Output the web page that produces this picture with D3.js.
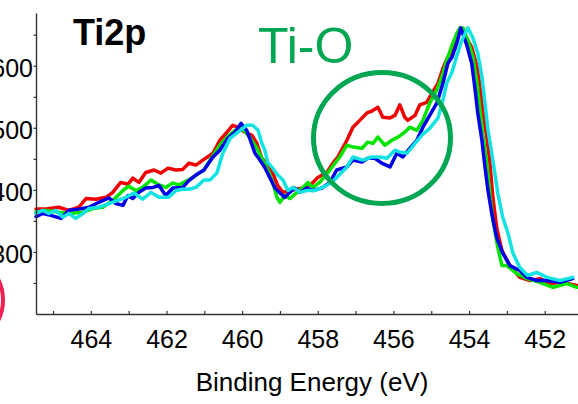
<!DOCTYPE html>
<html>
<head>
<meta charset="utf-8">
<script src="https://cdn.jsdelivr.net/npm/d3@7"></script>
<style>
  html, body { margin: 0; padding: 0; background: #fff; }
  svg { display: block; }
  text { font-family: "Liberation Sans", Arial, sans-serif; }
</style>
</head>
<body>
<svg id="chart" width="578" height="404"></svg>
<script>
// Ti 2p XPS spectra: [binding energy (eV), counts]
const redSeries = [[465.45,369],[465.24,369],[464.85,372],[464.58,367],[464.32,372],[464.13,386],[463.87,385],[463.60,388],[463.42,396],[463.21,412],[463.02,409],[462.89,419],[462.73,412],[462.55,428],[462.33,432],[462.15,427],[461.96,435],[461.75,432],[461.57,433],[461.41,443],[461.22,440],[461.04,448],[460.77,459],[460.59,480],[460.40,493],[460.25,504],[460.11,501],[459.93,493],[459.74,488],[459.61,475],[459.48,451],[459.35,443],[459.19,427],[459.06,407],[458.92,396],[458.74,399],[458.55,401],[458.34,404],[458.16,410],[458.00,420],[457.76,428],[457.60,443],[457.47,453],[457.23,480],[457.07,501],[456.89,512],[456.70,524],[456.57,527],[456.41,533],[456.28,517],[456.09,516],[455.96,520],[455.83,537],[455.70,517],[455.62,512],[455.43,520],[455.30,537],[455.12,541],[454.96,558],[454.82,572],[454.69,596],[454.56,614],[454.43,625],[454.30,653],[454.19,658],[454.11,649],[453.93,630],[453.79,598],[453.71,566],[453.64,528],[453.53,485],[453.45,443],[453.37,388],[453.27,339],[453.13,302],[452.92,278],[452.66,259],[452.39,254],[452.13,257],[451.86,249],[451.52,251],[451.15,246]];

const greenSeries = [[465.45,364],[465.19,367],[464.85,364],[464.58,362],[464.21,364],[463.95,370],[463.68,372],[463.42,383],[463.15,399],[463.00,406],[462.81,399],[462.63,404],[462.41,416],[462.23,409],[462.02,404],[461.83,411],[461.67,408],[461.49,414],[461.30,420],[461.14,427],[461.01,432],[460.85,448],[460.59,472],[460.40,485],[460.19,496],[460.01,500],[459.80,485],[459.61,467],[459.48,451],[459.32,432],[459.19,412],[459.08,388],[459.00,380],[458.87,391],[458.74,386],[458.55,396],[458.39,404],[458.26,412],[458.13,404],[457.95,412],[457.68,432],[457.42,453],[457.23,472],[457.07,469],[456.83,467],[456.68,477],[456.54,475],[456.41,485],[456.23,472],[456.04,480],[455.88,485],[455.70,493],[455.57,501],[455.38,496],[455.22,512],[455.04,540],[454.85,561],[454.72,582],[454.59,609],[454.45,633],[454.32,653],[454.24,661],[454.16,661],[454.03,641],[453.90,614],[453.79,572],[453.71,528],[453.64,491],[453.53,443],[453.45,394],[453.37,351],[453.24,307],[453.13,278],[453.00,278],[452.74,265],[452.47,257],[452.13,251],[451.78,243],[451.41,249],[451.15,243]];

const blueSeries = [[465.45,357],[465.27,362],[465.06,359],[464.79,354],[464.58,367],[464.32,369],[464.05,372],[463.79,380],[463.52,387],[463.34,378],[463.15,375],[463.02,391],[462.89,386],[462.73,396],[462.55,403],[462.36,404],[462.20,407],[462.02,391],[461.83,403],[461.57,404],[461.41,415],[461.22,424],[461.01,432],[460.77,453],[460.59,464],[460.38,483],[460.19,493],[460.03,507],[459.88,496],[459.80,483],[459.66,459],[459.53,448],[459.40,436],[459.27,420],[459.13,403],[459.00,395],[458.87,388],[458.74,396],[458.61,403],[458.47,396],[458.29,403],[458.13,399],[457.89,403],[457.68,412],[457.50,432],[457.23,437],[457.07,448],[456.83,445],[456.68,451],[456.49,451],[456.31,443],[456.09,437],[455.91,459],[455.75,453],[455.57,467],[455.38,480],[455.22,501],[455.04,520],[454.85,540],[454.69,572],[454.56,604],[454.45,614],[454.32,637],[454.22,661],[454.06,633],[453.93,604],[453.85,566],[453.77,524],[453.66,480],[453.58,437],[453.50,399],[453.40,362],[453.27,323],[453.11,298],[452.92,278],[452.66,270],[452.47,259],[452.21,254],[451.94,254],[451.60,251],[451.26,257]];

const cyanSeries = [[465.45,362],[465.27,367],[465.11,362],[464.93,367],[464.74,356],[464.58,362],[464.40,354],[464.21,362],[464.05,370],[463.79,372],[463.52,378],[463.29,383],[463.07,388],[462.86,395],[462.63,385],[462.41,396],[462.20,388],[461.94,388],[461.75,399],[461.57,401],[461.41,401],[461.22,404],[461.01,416],[460.85,416],[460.67,427],[460.51,459],[460.32,483],[460.11,493],[459.88,504],[459.72,504],[459.58,496],[459.48,475],[459.40,464],[459.32,444],[459.19,435],[459.06,424],[458.92,416],[458.79,399],[458.66,404],[458.47,396],[458.29,399],[458.08,399],[457.87,404],[457.63,412],[457.50,420],[457.23,437],[457.07,453],[456.81,448],[456.57,453],[456.36,453],[456.17,451],[455.96,464],[455.83,461],[455.64,459],[455.43,475],[455.25,488],[455.04,499],[454.82,516],[454.69,545],[454.59,572],[454.45,590],[454.32,617],[454.19,641],[454.03,661],[453.90,645],[453.77,620],[453.66,582],[453.58,540],[453.50,496],[453.40,459],[453.32,427],[453.24,394],[453.11,356],[452.97,330],[452.84,298],[452.66,275],[452.45,262],[452.21,267],[451.94,259],[451.60,254],[451.26,259]];

// Axis ticks
const xTickValues = [465,464,463,462,461,460,459,458,457,456,455,454,453,452];
const xTickLabels = [464,462,460,458,456,454,452];
const yTickValues = [250,300,350,400,450,500,550,600,650];
const yTickLabels = [300,400,500,600];

const svg = d3.select("#chart");

const x = d3.scaleLinear().domain([465.45, 451.12]).range([36, 578]);
const y = d3.scaleLinear().domain([200, 685]).range([314, 13]);

// spectra
const line = d3.line().x(d => x(d[0])).y(d => y(d[1]));
const series = [
  { data: redSeries,   color: "#f20000" },
  { data: greenSeries, color: "#00e400" },
  { data: blueSeries,  color: "#0000e8" },
  { data: cyanSeries,  color: "#12e2e2" }
];
svg.append("g").selectAll("path")
  .data(series)
  .join("path")
  .attr("d", s => line(s.data))
  .attr("fill", "none")
  .attr("stroke", s => s.color)
  .attr("stroke-width", 3.5)
  .attr("stroke-linejoin", "round")
  .attr("stroke-linecap", "round");

// x axis, ticks pointing inward
const xAxis = svg.append("g")
  .attr("transform", "translate(0,314)")
  .call(d3.axisBottom(x)
    .tickValues(xTickValues)
    .tickSizeInner(-3)
    .tickSizeOuter(0)
    .tickFormat(d => xTickLabels.includes(d) ? d : ""));
xAxis.select(".domain").attr("stroke", "#333").attr("stroke-width", 1.4);
xAxis.selectAll(".tick line").attr("stroke", "#333").attr("stroke-width", 1.2);
xAxis.selectAll(".tick text")
  .attr("y", 34).attr("dy", null)
  .attr("fill", "#000")
  .style("font-size", "25px");

// y axis
const yAxis = svg.append("g")
  .attr("transform", "translate(36,0)")
  .call(d3.axisLeft(y)
    .tickValues(yTickValues)
    .tickSizeInner(2.5)
    .tickSizeOuter(0)
    .tickFormat(d => yTickLabels.includes(d) ? d : ""));
yAxis.select(".domain").attr("stroke", "#333").attr("stroke-width", 1.4);
yAxis.selectAll(".tick line").attr("stroke", "#333").attr("stroke-width", 1.2);
yAxis.selectAll(".tick text")
  .attr("x", -3).attr("dy", "0.42em")
  .attr("fill", "#000")
  .style("font-size", "25px");

// axis title
svg.append("text")
  .attr("x", 312).attr("y", 391)
  .attr("text-anchor", "middle")
  .style("font-size", "26px")
  .attr("fill", "#000")
  .text("Binding Energy (eV)");

// panel label
svg.append("text")
  .attr("x", 73).attr("y", 45)
  .style("font-size", "36px")
  .style("font-weight", "bold")
  .attr("fill", "#000")
  .text("Ti2p");

// Ti-O region highlight
svg.append("text")
  .attr("x", 258).attr("y", 63)
  .style("font-size", "50px")
  .attr("fill", "#00a651")
  .text("Ti-O");
svg.append("ellipse")
  .attr("cx", 382).attr("cy", 138)
  .attr("rx", 68.5).attr("ry", 65.5)
  .attr("fill", "none")
  .attr("stroke", "#00a651")
  .attr("stroke-width", 5);

// edge of a neighbouring marker
svg.append("ellipse")
  .attr("cx", -42).attr("cy", 300)
  .attr("rx", 45).attr("ry", 45)
  .attr("fill", "none")
  .attr("stroke", "#ee2255")
  .attr("stroke-width", 4);
</script>
</body>
</html>
